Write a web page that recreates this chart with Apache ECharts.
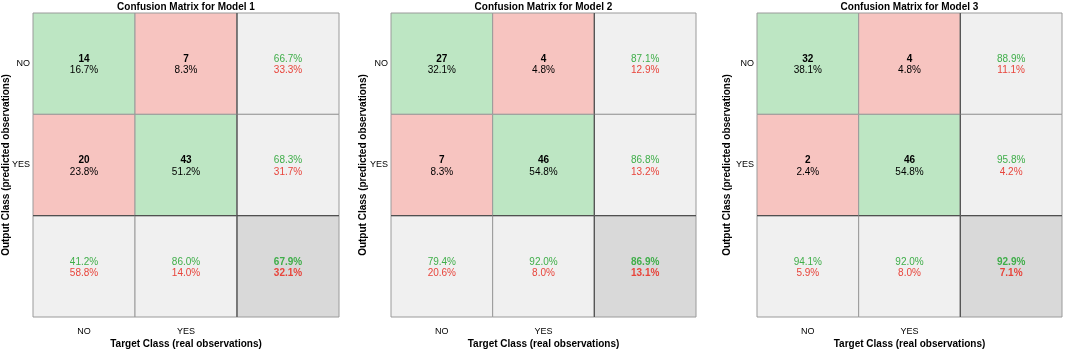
<!DOCTYPE html>
<html>
<head>
<meta charset="utf-8">
<script src="https://cdn.jsdelivr.net/npm/echarts@6/dist/echarts.min.js"></script>
<style>
  html, body { margin: 0; padding: 0; background: #fff; }
  #chart { width: 1065px; height: 353px; }
</style>
</head>
<body>
<div id="chart"></div>
<script>
// Clases y textos
const targetClasses = ["NO", "YES", ""];
const outputClasses = ["NO", "YES", ""];
const modelNames = ["Model 1", "Model 2", "Model 3"];

// Conteos por modelo [fila salida][columna objetivo]
const countsModel1 = [[14, 7], [20, 43]];
const countsModel2 = [[27, 4], [7, 46]];
const countsModel3 = [[32, 4], [2, 46]];

// Porcentajes de cada celda (sobre el total)
const pctModel1 = [[16.7, 8.3], [23.8, 51.2]];
const pctModel2 = [[32.1, 4.8], [8.3, 54.8]];
const pctModel3 = [[38.1, 4.8], [2.4, 54.8]];

// Columna derecha (por fila): acierto
const rowOkModel1 = [66.7, 68.3];
const rowOkModel2 = [87.1, 86.8];
const rowOkModel3 = [88.9, 95.8];

// Fila inferior (por columna): acierto
const colOkModel1 = [41.2, 86.0];
const colOkModel2 = [79.4, 92.0];
const colOkModel3 = [94.1, 92.0];

// Total
const totalOk = [67.9, 86.9, 92.9];

const models = [
  { counts: countsModel1, pct: pctModel1, rowOk: rowOkModel1, colOk: colOkModel1 },
  { counts: countsModel2, pct: pctModel2, rowOk: rowOkModel2, colOk: colOkModel2 },
  { counts: countsModel3, pct: pctModel3, rowOk: rowOkModel3, colOk: colOkModel3 },
];

const FONT = "'Liberation Sans', Arial, sans-serif";
const GREEN_BG = "#bde6c3";
const RED_BG = "#f7c4c0";
const LIGHT_BG = "#f0f0f0";
const DARK_BG = "#d9d9d9";
const GREEN_TXT = "#3fae49";
const RED_TXT = "#e8443b";

const fmt = (v) => v.toFixed(1) + "%";

// Construir las celdas de cada modelo
function buildCells(m, idx) {
  const cells = [];
  for (let r = 0; r < 2; r++) {
    for (let c = 0; c < 2; c++) {
      cells.push({
        value: [c, r],
        fill: r === c ? GREEN_BG : RED_BG,
        top: String(m.counts[r][c]),
        bottom: fmt(m.pct[r][c]),
        kind: "main",
      });
    }
    cells.push({
      value: [2, r],
      fill: LIGHT_BG,
      top: fmt(m.rowOk[r]),
      bottom: fmt(100 - m.rowOk[r]),
      kind: "summary",
    });
  }
  for (let c = 0; c < 2; c++) {
    cells.push({
      value: [c, 2],
      fill: LIGHT_BG,
      top: fmt(m.colOk[c]),
      bottom: fmt(100 - m.colOk[c]),
      kind: "summary",
    });
  }
  cells.push({
    value: [2, 2],
    fill: DARK_BG,
    top: fmt(totalOk[idx]),
    bottom: fmt(100 - totalOk[idx]),
    kind: "total",
  });
  return cells;
}

const gridLefts = [33, 391, 757];
const gridWidths = [306, 305, 305];
const yNameGaps = [22, 23, 25];

const grids = [], xAxes = [], yAxes = [], titles = [], series = [];

models.forEach((m, i) => {
  grids.push({
    left: gridLefts[i], width: gridWidths[i], top: 13, height: 304,
    containLabel: false, outerBoundsMode: "none",
  });
  titles.push({
    text: "Confusion Matrix for " + modelNames[i],
    left: gridLefts[i] + gridWidths[i] / 2,
    textAlign: "center",
    top: 2,
    padding: 0,
    textStyle: { fontFamily: FONT, fontSize: 10, fontWeight: "bold", color: "#000" },
  });
  xAxes.push({
    type: "category",
    gridIndex: i,
    data: targetClasses,
    axisLine: { show: false },
    axisTick: { show: false },
    splitLine: { show: false },
    axisLabel: { fontFamily: FONT, fontSize: 9, color: "#000", margin: 10 },
    name: "Target Class (real observations)",
    nameLocation: "middle",
    nameGap: 22,
    nameMoveOverlap: false,
    nameTextStyle: { fontFamily: FONT, fontSize: 10, fontWeight: "bold", color: "#000" },
  });
  yAxes.push({
    type: "category",
    gridIndex: i,
    inverse: true,
    data: outputClasses,
    axisLine: { show: false },
    axisTick: { show: false },
    splitLine: { show: false },
    axisLabel: { fontFamily: FONT, fontSize: 9, color: "#000", margin: 3 },
    name: "Output Class (predicted observations)",
    nameLocation: "middle",
    nameGap: yNameGaps[i],
    nameMoveOverlap: false,
    nameTextStyle: { fontFamily: FONT, fontSize: 10, fontWeight: "bold", color: "#000" },
  });

  const cells = buildCells(m, i);
  series.push({
    type: "custom",
    xAxisIndex: i,
    yAxisIndex: i,
    data: cells,
    renderItem: function (params, api) {
      const cell = cells[params.dataIndex];
      const col = api.value(0), row = api.value(1);
      const p = api.coord([col, row]);
      const s = api.size([1, 1]);
      const x0 = p[0] - s[0] / 2, y0 = p[1] - s[1] / 2;
      const children = [
        {
          type: "rect",
          shape: { x: x0, y: y0, width: s[0], height: s[1] },
          style: { fill: cell.fill, stroke: "#9a9a9a", lineWidth: 1 },
        },
      ];
      let topColor = "#000", botColor = "#000", topWeight = "bold", botWeight = "normal";
      if (cell.kind !== "main") {
        topColor = GREEN_TXT;
        botColor = RED_TXT;
        topWeight = cell.kind === "total" ? "bold" : "normal";
        botWeight = topWeight;
      }
      children.push({
        type: "text",
        style: {
          x: p[0], y: p[1] - 4.5, text: cell.top,
          fill: topColor, font: topWeight + " 10px " + FONT,
          textAlign: "center", textVerticalAlign: "middle",
        },
      });
      children.push({
        type: "text",
        style: {
          x: p[0], y: p[1] + 7, text: cell.bottom,
          fill: botColor, font: botWeight + " 10px " + FONT,
          textAlign: "center", textVerticalAlign: "middle",
        },
      });
      // separadores oscuros del resumen
      if (col === 2) {
        children.push({
          type: "line",
          shape: { x1: x0, y1: y0, x2: x0, y2: y0 + s[1] },
          style: { stroke: "#505050", lineWidth: 1.2 },
        });
      }
      if (row === 2) {
        children.push({
          type: "line",
          shape: { x1: x0, y1: y0, x2: x0 + s[0], y2: y0 },
          style: { stroke: "#505050", lineWidth: 1.2 },
        });
      }
      return { type: "group", children: children };
    },
    silent: true,
  });
});

const chart = echarts.init(document.getElementById("chart"));
chart.setOption({
  animation: false,
  backgroundColor: "#fff",
  title: titles,
  grid: grids,
  xAxis: xAxes,
  yAxis: yAxes,
  series: series,
});
</script>
</body>
</html>
